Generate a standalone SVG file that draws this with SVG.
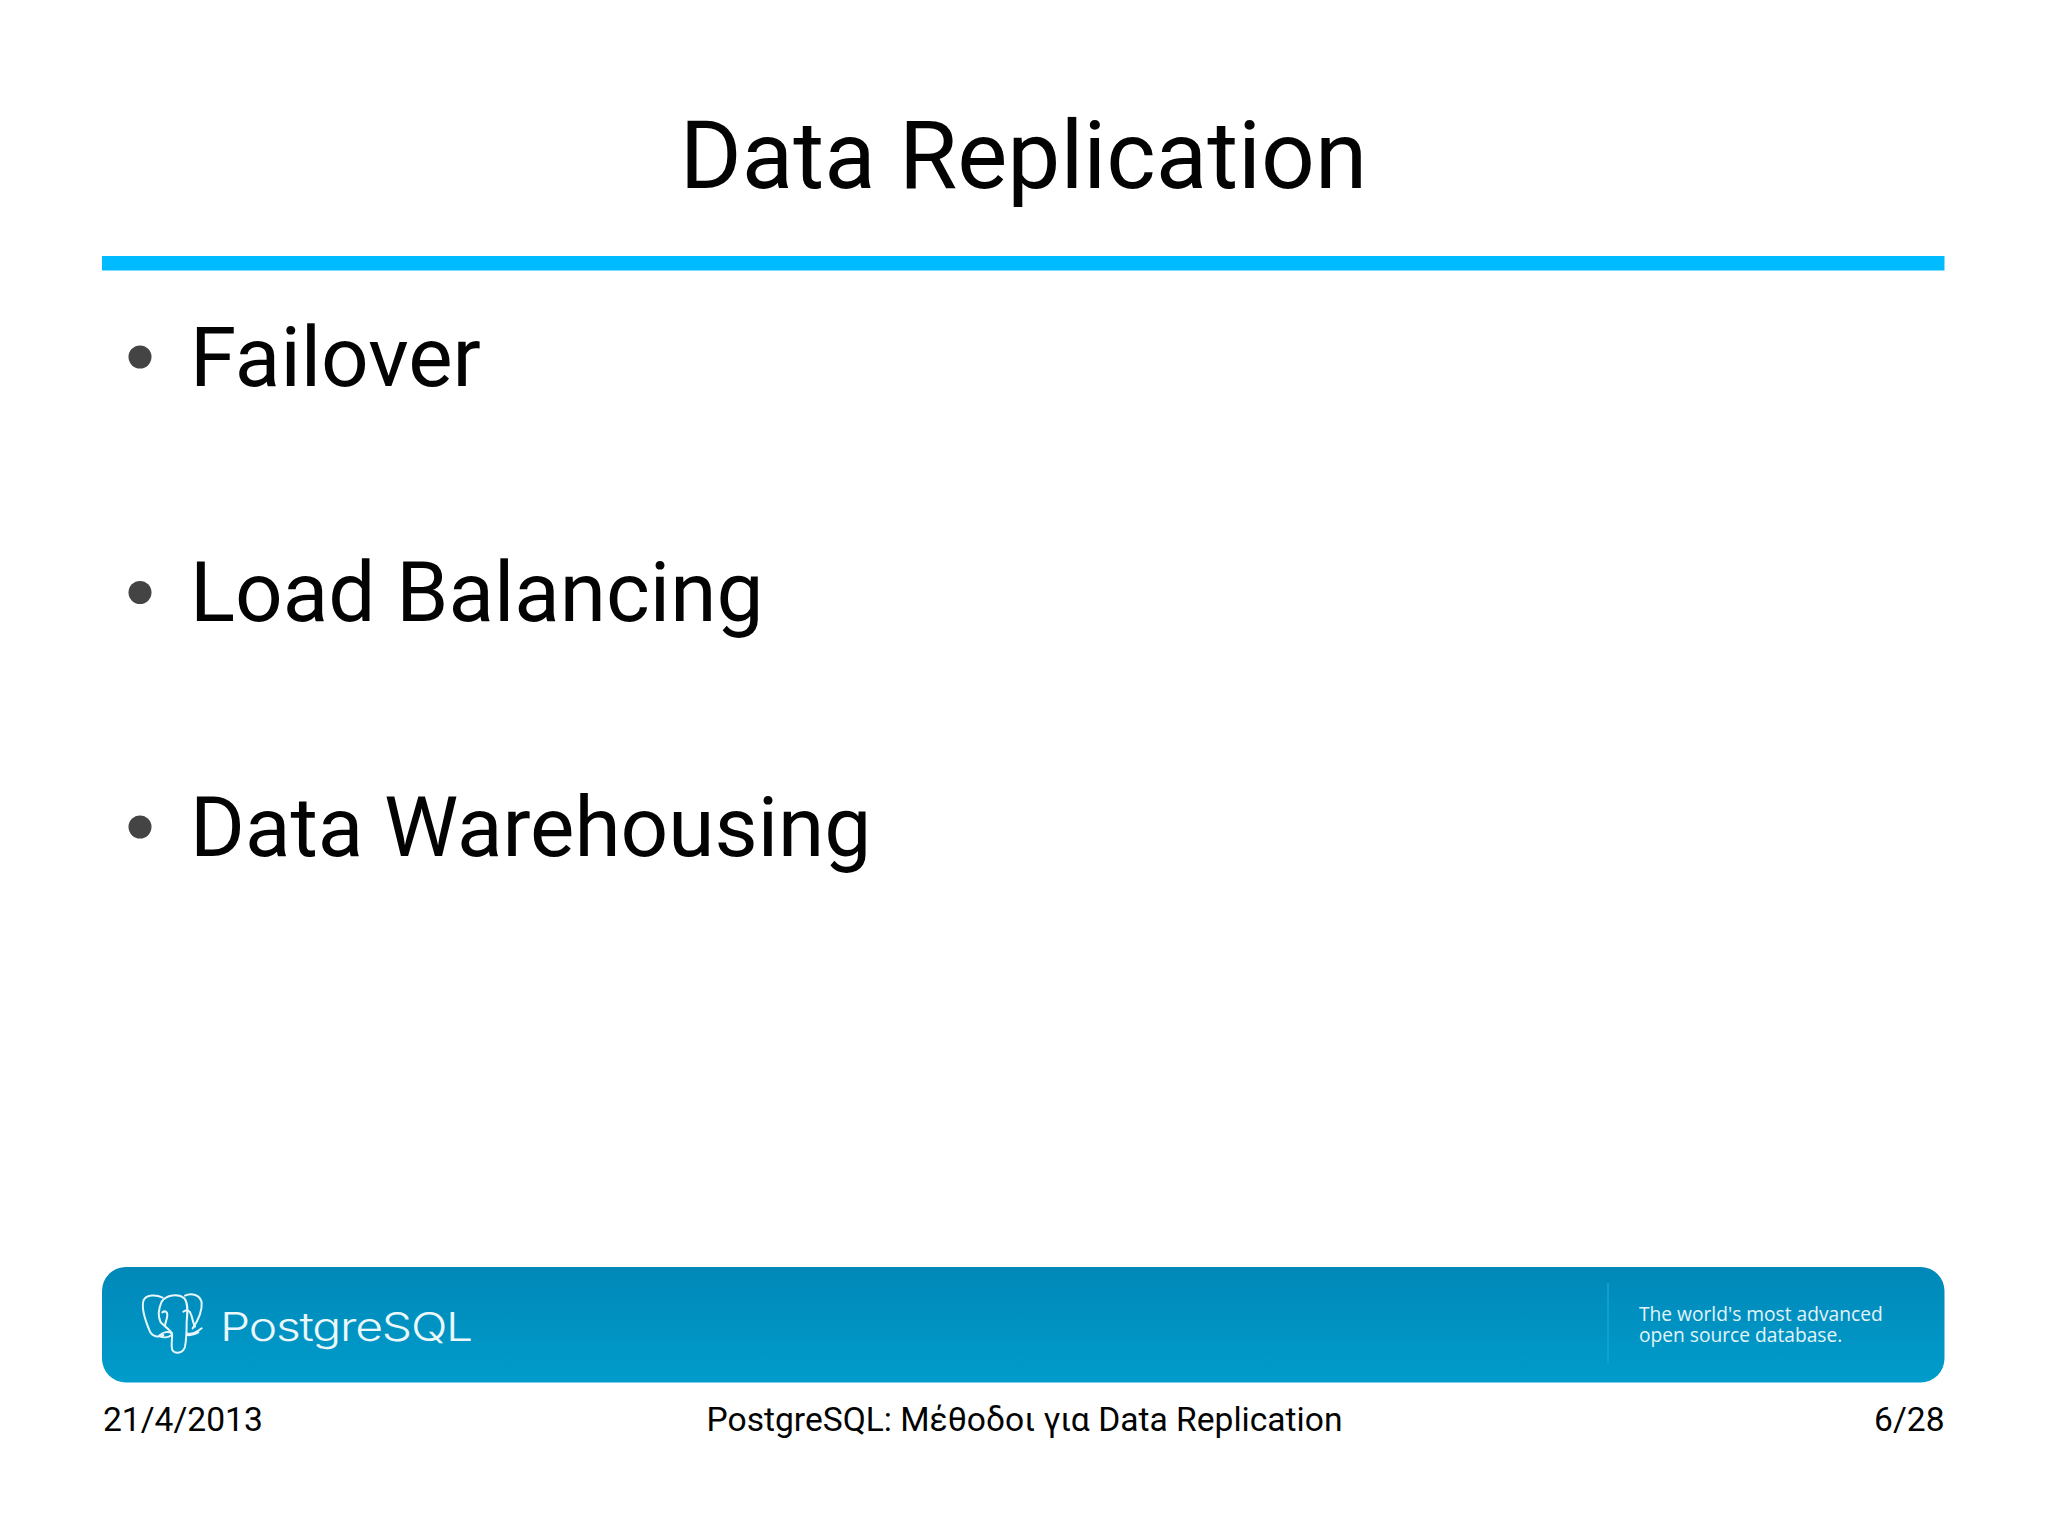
<svg xmlns="http://www.w3.org/2000/svg" width="2048" height="1535" viewBox="0 0 2048 1535">
<style>
.t{font-family:Roboto,"Noto Sans",sans-serif;fill:#030303}
.b{font-size:83.7px}
.f{font-size:33.6px}
.w{font-family:"Open Sans","Noto Sans",sans-serif;font-size:19.2px;font-weight:500;fill:#e2f4fa}
.e{fill:none;stroke:#e6f6fb;stroke-width:6;stroke-linecap:round;stroke-linejoin:round}
</style>
<defs><linearGradient id="g" x1="0" y1="0" x2="0" y2="1"><stop offset="0" stop-color="#0088b8"/><stop offset="1" stop-color="#009ccb"/></linearGradient></defs>
<rect width="2048" height="1535" fill="#fff"/>
<g id="title"><text class="t" x="1023.5" y="188" font-size="94.5" text-anchor="middle">Data Replication</text>
<rect x="102" y="256" width="1842.500" height="14.500" fill="#00bbff"/></g>
<g id="bullets">
<circle cx="140" cy="357" r="11.500" fill="#444"/><text class="t b" x="190" y="386">Failover</text>
<circle cx="140" cy="592.500" r="11.500" fill="#444"/><text class="t b" x="190" y="621">Load Balancing</text>
<circle cx="140" cy="827" r="11.500" fill="#444"/><text class="t b" x="190" y="856">Data Warehousing</text>
</g>
<g id="banner">
<rect x="102" y="1267" width="1842.500" height="115.500" rx="24" fill="url(#g)"/>
<path d="M1608 1283V1363" stroke="#12a6d3" stroke-width="1.5"/>
<g transform="translate(130 1285) scale(.3333)">
<path class="e" d="M98 38C78 28 50 28 41 45C34 65 45 105 60 140C68 155 85 158 100 150"/>
<path class="e" d="M92 112C84 95 86 70 95 50C108 30 145 24 163 40C176 55 172 85 170 110C170 135 170 160 165 185C160 205 135 208 127 195C122 180 128 160 126 145C120 135 105 125 92 112Z"/>
<path class="e" d="M165 32C185 22 210 30 215 52C217 75 205 105 188 130"/>
<path class="e" d="M88 152C100 140 115 138 125 145M88 152C100 160 115 158 125 150M170 145C185 150 200 142 215 130M172 150C185 152 195 148 205 142"/>
<path class="e" d="M97 82C105 76 112 80 112 90C112 100 106 112 105 122M160 80C170 72 180 78 183 88C188 100 188 112 195 125"/>
</g>
<text x="220" y="1341" font-family="Inter,'Liberation Sans',sans-serif" font-size="39" font-weight="300" letter-spacing="-1" textLength="252" lengthAdjust="spacingAndGlyphs" fill="#eaf8fc">PostgreSQL</text>
<text class="w"><tspan x="1639" y="1321">The world's most advanced</tspan><tspan x="1639" y="1342">open source database.</tspan></text>
</g>
<g id="footer">
<text class="t f" x="103" y="1431">21/4/2013</text>
<text class="t f" x="1024.500" y="1431" text-anchor="middle">PostgreSQL: Μέθοδοι για Data Replication</text>
<text class="t f" x="1944.500" y="1431" text-anchor="end">6/28</text>
</g>
</svg>
